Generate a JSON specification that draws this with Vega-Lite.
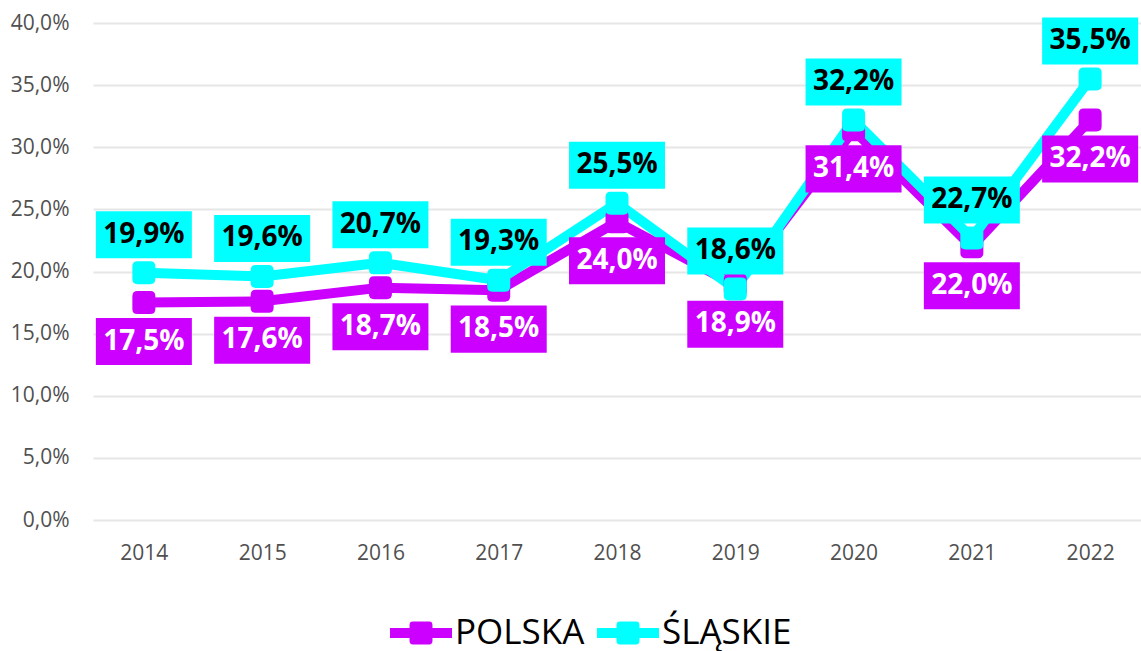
{
  "$schema": "https://vega.github.io/schema/vega-lite/v6.json",
  "width": 1048,
  "height": 497,
  "autosize": {"type": "none"},
  "padding": {"left": 93, "top": 23, "right": 0, "bottom": 131},
  "background": "white",
  "config": {
    "locale": {"number": {"decimal": ",", "thousands": " ", "grouping": [3], "currency": ["", " zł"]}},
    "view": {"stroke": null},
    "font": "Open Sans"
  },
  "data": {
    "values": [
      {"year": "2014", "series": "POLSKA", "value": 0.175},
      {"year": "2015", "series": "POLSKA", "value": 0.176},
      {"year": "2016", "series": "POLSKA", "value": 0.187},
      {"year": "2017", "series": "POLSKA", "value": 0.185},
      {"year": "2018", "series": "POLSKA", "value": 0.240},
      {"year": "2019", "series": "POLSKA", "value": 0.189},
      {"year": "2020", "series": "POLSKA", "value": 0.314},
      {"year": "2021", "series": "POLSKA", "value": 0.220},
      {"year": "2022", "series": "POLSKA", "value": 0.322},
      {"year": "2014", "series": "ŚLĄSKIE", "value": 0.199},
      {"year": "2015", "series": "ŚLĄSKIE", "value": 0.196},
      {"year": "2016", "series": "ŚLĄSKIE", "value": 0.207},
      {"year": "2017", "series": "ŚLĄSKIE", "value": 0.193},
      {"year": "2018", "series": "ŚLĄSKIE", "value": 0.255},
      {"year": "2019", "series": "ŚLĄSKIE", "value": 0.186},
      {"year": "2020", "series": "ŚLĄSKIE", "value": 0.322},
      {"year": "2021", "series": "ŚLĄSKIE", "value": 0.227},
      {"year": "2022", "series": "ŚLĄSKIE", "value": 0.355}
    ]
  },
  "encoding": {
    "x": {
      "field": "year", "type": "ordinal",
      "scale": {"type": "point", "padding": 0.43},
      "axis": {"title": null, "labelAngle": 0, "domain": false, "ticks": false, "tickSize": 0, "labelPadding": 22, "labelFontSize": 21, "labelColor": "#505050", "labelFont": "Open Sans", "grid": false}
    },
    "y": {
      "field": "value", "type": "quantitative",
      "scale": {"domain": [0, 0.4], "nice": false},
      "axis": {"title": null, "values": [0, 0.05, 0.1, 0.15, 0.2, 0.25, 0.3, 0.35, 0.4], "format": ".1%", "domain": false, "ticks": false, "tickSize": 0, "labelPadding": 24, "labelFontSize": 21, "labelColor": "#505050", "labelFont": "Open Sans", "gridColor": "#E6E6E6", "gridWidth": 2}
    }
  },
  "layer": [
    {
      "mark": {"type": "line", "strokeWidth": 10, "strokeJoin": "round", "strokeCap": "round"},
      "encoding": {
        "color": {
          "field": "series", "type": "nominal",
          "scale": {"domain": ["POLSKA", "ŚLĄSKIE"], "range": ["#CC00FF", "#00FFFF"]},
          "legend": {
            "orient": "none", "legendX": 297, "legendY": 579, "direction": "horizontal",
            "title": null, "labelFontSize": 35, "labelFont": "Open Sans", "labelColor": "#000000", "labelLimit": 400,
            "symbolType": "M-1,-0.16H-0.37V-0.26Q-0.37,-0.37,-0.26,-0.37H0.26Q0.37,-0.37,0.37,-0.26V-0.16H1V0.16H0.37V0.26Q0.37,0.37,0.26,0.37H-0.26Q-0.37,0.37,-0.37,0.26V0.16H-1Z",
            "symbolSize": 3844, "symbolStrokeWidth": 0, "labelOffset": 3, "columnPadding": 12,
            "encode": {"symbols": {"update": {"fill": {"scale": "color", "field": "value"}, "opacity": {"value": 1}}}}
          }
        }
      }
    },
    {
      "transform": [{"filter": "datum.series === 'POLSKA'"}],
      "mark": {"type": "point", "shape": "M-1,-0.55Q-1,-1,-0.55,-1L0.55,-1Q1,-1,1,-0.55L1,0.55Q1,1,0.55,1L-0.55,1Q-1,1,-1,0.55Z", "size": 529, "filled": true, "color": "#CC00FF", "opacity": 1}
    },
    {
      "transform": [{"filter": "datum.series === 'ŚLĄSKIE'"}],
      "mark": {"type": "point", "shape": "M-1,-0.55Q-1,-1,-0.55,-1L0.55,-1Q1,-1,1,-0.55L1,0.55Q1,1,0.55,1L-0.55,1Q-1,1,-1,0.55Z", "size": 529, "filled": true, "color": "#00FFFF", "opacity": 1}
    },
    {
      "transform": [{"filter": "datum.series === 'ŚLĄSKIE'"}],
      "mark": {"type": "point", "shape": "M-1,-0.49H1V0.49H-1Z", "size": 9216, "filled": true, "color": "#00FFFF", "opacity": 1, "yOffset": -38}
    },
    {
      "transform": [{"filter": "datum.series === 'ŚLĄSKIE'"}],
      "mark": {"type": "text", "font": "Open Sans", "fontSize": 28, "fontWeight": "bold", "color": "#000000", "baseline": "middle", "align": "center", "dy": -38},
      "encoding": {"text": {"field": "value", "type": "quantitative", "format": ".1%"}}
    },
    {
      "transform": [{"filter": "datum.series === 'POLSKA'"}],
      "mark": {"type": "point", "shape": "M-1,-0.49H1V0.49H-1Z", "size": 9216, "filled": true, "color": "#CC00FF", "opacity": 1, "yOffset": 39}
    },
    {
      "transform": [{"filter": "datum.series === 'POLSKA'"}],
      "mark": {"type": "text", "font": "Open Sans", "fontSize": 28, "fontWeight": "bold", "color": "#FFFFFF", "baseline": "middle", "align": "center", "dy": 39},
      "encoding": {"text": {"field": "value", "type": "quantitative", "format": ".1%"}}
    }
  ]
}
